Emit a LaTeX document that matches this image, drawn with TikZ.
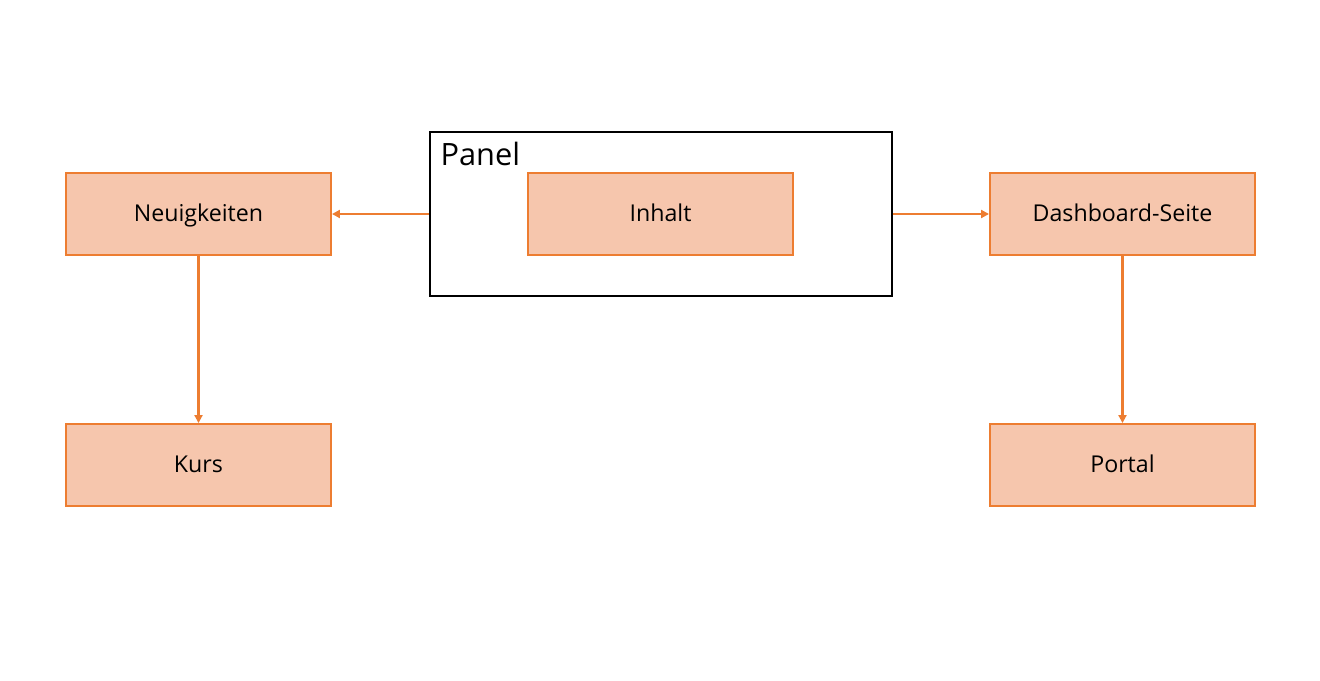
\documentclass[tikz,border=0pt]{standalone}
\usepackage{fontspec}
\setmainfont{Open Sans}
\usetikzlibrary{arrows.meta}
\definecolor{boxfill}{HTML}{F6C6AD}
\definecolor{boxline}{HTML}{ED7D31}
\tikzset{every path/.style={semithick}}
\tikzset{
  page/.style={draw=boxline,fill=boxfill,line width=1.1pt,minimum width=5.3cm,minimum height=1.64cm,
    text height=1.65ex,text depth=0pt,font=\fontsize{13.2}{15}\selectfont},
  link/.style={draw=boxline,line width=1.15pt,-{Triangle[length=4.5pt,width=4.5pt]}}
}

\begin{document}
\begin{tikzpicture}
    \useasboundingbox (0,0) rectangle (26.4,-13.62);

    % Panel mit Inhalt
    \node[draw=black,line width=1.1pt,minimum width=9.24cm,minimum height=3.28cm] (PANEL) at (13.22,-4.28) {};
    \node[anchor=base west,inner sep=0pt,font=\fontsize{17.5}{19}\selectfont] (PANELTXT) at (8.8,-3.30) {Panel};
    \node[page] (INHALT) at (13.21,-4.28) {Inhalt};

    % linke Seite
    \node[page] (NEWS) at (3.97,-4.28) {Neuigkeiten};
    \node[page] (KURS) at (3.97,-9.30) {Kurs};

    % rechte Seite
    \node[page] (DASH) at (22.45,-4.28) {Dashboard-Seite};
    \node[page] (PORTAL) at (22.45,-9.30) {Portal};

    \draw[link] (PANEL.west) -- (NEWS.east);
    \draw[link] (PANEL.east) -- (DASH.west);
    \draw[link] (NEWS.south) -- (KURS.north);
    \draw[link] (DASH.south) -- (PORTAL.north);
\end{tikzpicture}
\end{document}
